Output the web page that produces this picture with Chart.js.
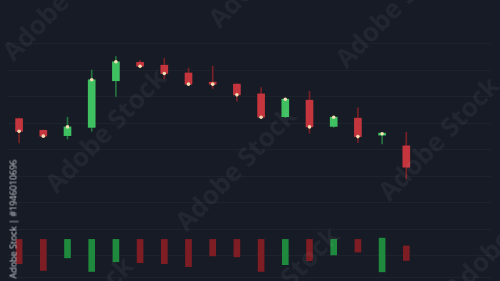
<!DOCTYPE html>
<html>
<head>
<meta charset="utf-8">
<script src="https://cdn.jsdelivr.net/npm/chart.js@4.4.1/dist/chart.umd.min.js"></script>
<style>
  html, body { margin: 0; padding: 0; background: #161b26; overflow: hidden; }
  #wrap { position: relative; width: 500px; height: 281px; }
  .mark {
    position: absolute; white-space: nowrap; pointer-events: none;
    font-family: "Open Sans", sans-serif; font-weight: 700; font-size: 26px;
    color: rgba(255, 255, 255, 0.05);
    transform: translate(-50%, -50%) rotate(-46deg);
  }
  #stockId {
    position: absolute; left: 13px; top: 219px; white-space: nowrap;
    font-family: "Open Sans", sans-serif; font-size: 9px; color: #c9ccd2;
    transform: translate(-50%, -50%) rotate(-90deg);
  }
</style>
</head>
<body>
<div id="wrap">
  <canvas id="chart"></canvas>
  <div class="mark" style="left:62px;top:-2px">Adobe Stock</div>
  <div class="mark" style="left:268px;top:-35px">Adobe Stock</div>
  <div class="mark" style="left:395px;top:5px">Adobe Stock</div>
  <div class="mark" style="left:105px;top:130px">Adobe Stock</div>
  <div class="mark" style="left:235px;top:168px">Adobe Stock</div>
  <div class="mark" style="left:438px;top:138px">Adobe Stock</div>
  <div class="mark" style="left:72px;top:318px">Adobe Stock</div>
  <div class="mark" style="left:278px;top:288px">Adobe Stock</div>
  <div class="mark" style="left:505px;top:235px">Adobe Stock</div>
  <div id="stockId">Adobe Stock | #1946010696</div>
</div>
<script>
// candles (3 empty slots keep the right side free)
const labels = ["1","2","3","4","5","6","7","8","9","10","11","12","13","14","15","16","17","","",""];
const openPrices  = [118.2, 117.0, 116.45, 117.3, 122.1, 124.0, 123.7, 122.9, 121.85, 121.75, 120.75, 118.4, 120.1, 117.4, 118.25, 116.5, 115.4];
const closePrices = [116.9, 116.4, 117.35, 122.2, 124.05, 123.6, 122.85, 121.75, 121.75, 120.65, 118.35, 120.2, 117.35, 118.35, 116.35, 116.65, 113.2];
const highPrices  = [118.25, 117.05, 118.35, 123.2, 124.6, 124.2, 124.4, 123.4, 123.6, 121.8, 121.4, 120.3, 121.0, 118.4, 119.3, 116.8, 116.8];
const lowPrices   = [115.7, 116.3, 116.1, 116.9, 120.5, 123.5, 122.3, 121.7, 121.3, 120.0, 118.3, 118.3, 116.7, 117.3, 115.75, 115.6, 112.0];
// volume bars hang down from a base line
const volumeFrom = [0, 0, 0, 0, 0, 0, 0, 0, 0, 0, 0, 0, 0, 0, 0, -1.3, 6.7];
const volume     = [25, 32, 19, 33, 23, 24, 25, 28, 17, 18, 33, 26, 22, 16, 13, 33.4, 21.7];
// last candle has no price marker
const markerShown = [true, true, true, true, true, true, true, true, true, true, true, true, true, true, true, true, false];

const RED = "#c4353d";
const GREEN = "#3fc061";
const isUp = (i) => closePrices[i] >= openPrices[i];

const bodies = openPrices.map((o, i) => [o, closePrices[i]]);
const wicks = lowPrices.map((l, i) => [l, highPrices[i]]);
const volBars = volume.map((v, i) => [volumeFrom[i], v]);
const markers = closePrices.map((c, i) => (markerShown[i] ? c : null));

const ctx = document.getElementById("chart").getContext("2d");
new Chart(ctx, {
  data: {
    labels: labels,
    datasets: [
      {
        type: "line",
        data: markers,
        showLine: false,
        pointRadius: 1.8,
        pointBorderWidth: 0,
        pointBackgroundColor: "#f3dcb2",
        yAxisID: "y",
        order: 0,
      },
      {
        type: "bar",
        data: bodies,
        grouped: false,
        barThickness: 7,
        minBarLength: 2,
        backgroundColor: openPrices.map((o, i) => (isUp(i) ? GREEN : RED)),
        yAxisID: "y",
        order: 1,
      },
      {
        type: "bar",
        data: wicks,
        grouped: false,
        barThickness: 1,
        backgroundColor: openPrices.map((o, i) => (isUp(i) ? "#26733f" : "#762126")),
        yAxisID: "y",
        order: 2,
      },
      {
        type: "bar",
        data: volBars,
        grouped: false,
        barThickness: 6,
        backgroundColor: openPrices.map((o, i) => (isUp(i) ? "#1f8a3e" : "#7e1d24")),
        yAxisID: "yv",
        order: 3,
      },
    ],
  },
  options: {
    responsive: true,
    maintainAspectRatio: false,
    animation: false,
    layout: { padding: { left: 7, right: 9, top: 0, bottom: 0 } },
    plugins: { legend: { display: false }, tooltip: { enabled: false } },
    scales: {
      x: { display: false, offset: true },
      y: { display: false, min: 101.9, max: 130 },
      yv: { display: false, reverse: true, min: -242.3, max: 38.7 },
      // background grid only
      yg: {
        position: "left",
        reverse: true,
        min: -1.49,
        max: 8.8,
        ticks: { display: false, stepSize: 1 },
        border: { display: false },
        grid: {
          drawTicks: false,
          color: (c) => (c.tick.value >= 0 ? "rgba(255,255,255,0.032)" : "transparent"),
        },
      },
    },
  },
});
</script>
</body>
</html>
